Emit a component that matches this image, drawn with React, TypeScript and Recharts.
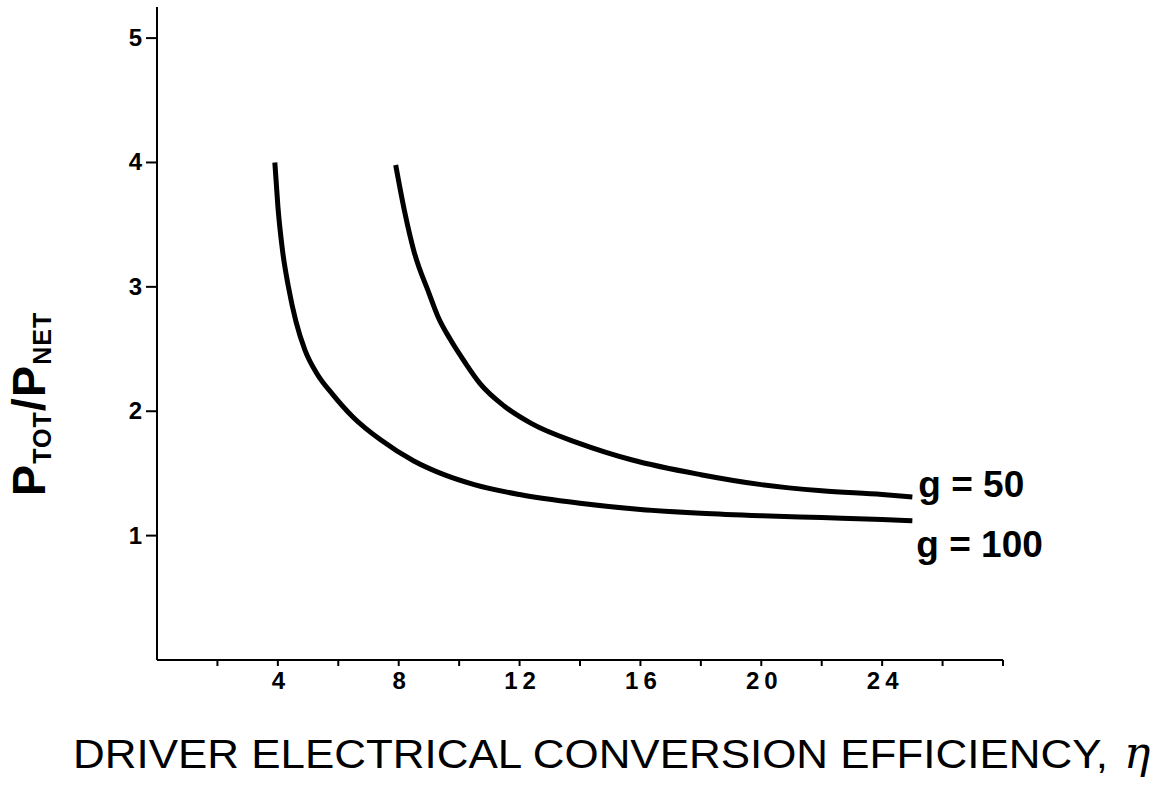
import { LineChart, Line, XAxis, YAxis } from "recharts";

// efficiency (%) and P_TOT/P_NET
const etaG50 = [7.9, 8.2, 8.5, 9.0, 9.3, 9.7, 10.2, 10.7, 11.5, 12.4, 14, 15.7, 18, 20, 22, 24, 25];
const ratioG50 = [3.98, 3.6, 3.29, 2.95, 2.76, 2.58, 2.39, 2.22, 2.04, 1.9, 1.74, 1.61, 1.49, 1.41, 1.36, 1.33, 1.31];

const etaG100 = [3.9, 4.0, 4.15, 4.35, 4.6, 4.9, 5.3, 5.8, 6.5, 7.4, 8.5, 9.5, 10.5, 12, 14, 16, 18, 20, 22, 24, 25];
const ratioG100 = [4.0, 3.65, 3.3, 3.0, 2.72, 2.49, 2.3, 2.14, 1.95, 1.77, 1.6, 1.49, 1.41, 1.33, 1.26, 1.21, 1.18, 1.16, 1.145, 1.13, 1.12];

const xTicks = [2, 4, 6, 8, 10, 12, 14, 16, 18, 20, 22, 24, 26, 28];
const xLabeled = [4, 8, 12, 16, 20, 24];
const yTicks = [1, 2, 3, 4, 5];

const g50 = etaG50.map((eta, i) => ({ eta, ratio: ratioG50[i] }));
const g100 = etaG100.map((eta, i) => ({ eta, ratio: ratioG100[i] }));

const font = "'Liberation Sans', Arial, Helvetica, sans-serif";

function endLabel(text: string, last: number, dx: number, dy: number) {
  return (props: any) => {
    if (props.index !== last) return null;
    return (
      <text
        x={props.x + dx}
        y={props.y + dy}
        fontFamily={font}
        fontSize={37}
        fontWeight="bold"
        fill="#000"
      >
        {text}
      </text>
    );
  };
}

const XTick = (props: any) => {
  const v = props.payload.value;
  if (!xLabeled.includes(v)) return null;
  return (
    <text
      x={props.x + 3}
      y={props.y + 19}
      textAnchor="middle"
      fontFamily={font}
      fontSize={24}
      fontWeight="bold"
      letterSpacing={5}
      fill="#000"
    >
      {v}
    </text>
  );
};

const YTick = (props: any) => (
  <text
    x={props.x}
    y={props.y + 8}
    textAnchor="end"
    fontFamily={font}
    fontSize={24}
    fontWeight="bold"
    fill="#000"
  >
    {props.payload.value}
  </text>
);

export default function App() {
  return (
    <div style={{ position: "absolute", left: 0, top: 0, background: "#fff" }}>
      <LineChart
        width={1162}
        height={787}
        margin={{ top: 7, right: 159, bottom: 97, left: 97 }}
      >
        <XAxis
          type="number"
          dataKey="eta"
          domain={[0, 28]}
          ticks={xTicks}
          height={30}
          allowDataOverflow
          stroke="#000"
          strokeWidth={2}
          tickSize={6}
          tickMargin={4}
          tick={<XTick />}
          label={{
            content: () => (
              <text y={768} fontFamily={font} fill="#000">
                <tspan x={73} fontSize={41} textLength={1035} lengthAdjust="spacingAndGlyphs">
                  DRIVER ELECTRICAL CONVERSION EFFICIENCY,
                </tspan>
                <tspan x={1124} fontSize={44} fontStyle="italic" fontFamily="'DejaVu Serif', serif">
                  η
                </tspan>
              </text>
            ),
          }}
        />
        <YAxis
          type="number"
          dataKey="ratio"
          domain={[0, 5.25]}
          ticks={yTicks}
          width={60}
          stroke="#000"
          strokeWidth={2}
          tickSize={11}
          tickMargin={4}
          tick={<YTick />}
          label={{
            content: () => (
              <text
                x={45}
                y={404}
                transform="rotate(-90, 45, 404)"
                textAnchor="middle"
                fontFamily={font}
                fontWeight="bold"
                letterSpacing={1}
                fill="#000"
              >
                <tspan fontSize={47}>P</tspan>
                <tspan fontSize={25} dy={6}>TOT</tspan>
                <tspan fontSize={47} dy={-6}>/P</tspan>
                <tspan fontSize={25} dy={6}>NET</tspan>
              </text>
            ),
          }}
        />
        <Line
          data={g50}
          dataKey="ratio"
          type="monotone"
          stroke="#000"
          strokeWidth={5}
          dot={false}
          isAnimationActive={false}
          label={endLabel("g = 50", g50.length - 1, 6, 0)}
        />
        <Line
          data={g100}
          dataKey="ratio"
          type="monotone"
          stroke="#000"
          strokeWidth={5}
          dot={false}
          isAnimationActive={false}
          label={endLabel("g = 100", g100.length - 1, 4, 36)}
        />
      </LineChart>
    </div>
  );
}
